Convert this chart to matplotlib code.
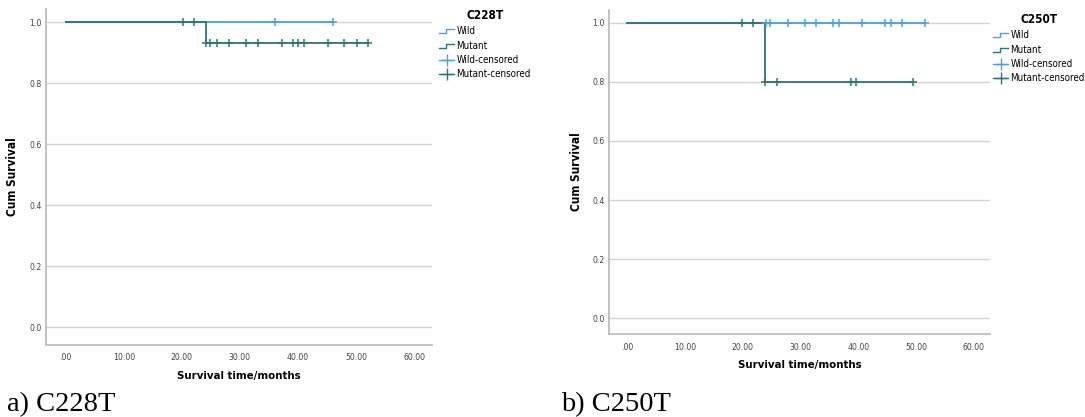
import numpy as np
import matplotlib
matplotlib.use("Agg")
from matplotlib import pyplot as plt
from matplotlib.lines import Line2D
from matplotlib.legend_handler import HandlerBase

# C228T panel
c228_wild_t = [0.0, 46.0]
c228_wild_s = [1.0, 1.0]
c228_wild_cens = [36.0, 46.0]
c228_mut_t = [0.0, 24.1, 52.1]
c228_mut_s = [1.0, 0.933, 0.933]
c228_mut_cens = [20.2, 22.1, 24.1, 24.9, 26.1, 28.2, 31.1, 33.1, 37.2, 39.1,
                 40.0, 41.0, 45.1, 48.0, 50.1, 52.1]

# C250T panel
c250_wild_t = [0.0, 51.5]
c250_wild_s = [1.0, 1.0]
c250_wild_cens = [24.0, 24.8, 27.8, 30.8, 32.7, 35.7, 36.7, 40.7, 44.6, 45.6,
                  47.6, 51.5]
c250_mut_t = [0.0, 23.8, 49.5]
c250_mut_s = [1.0, 0.8, 0.8]
c250_mut_cens = [19.9, 21.8, 23.8, 25.9, 38.7, 39.7, 49.5]

xticks = [0, 10, 20, 30, 40, 50, 60]
yticks = [0.0, 0.2, 0.4, 0.6, 0.8, 1.0]
legend_labels = ["Wild", "Mutant", "Wild-censored", "Mutant-censored"]

WILD = "#4aa2e6"
MUT = "#2d7676"
NARROW = ["DejaVu Sans"]


class StepHandler(HandlerBase):
    def create_artists(self, legend, orig, xd, yd, w, h, fontsize, trans):
        xs = [xd, xd + w * 0.45, xd + w * 0.45, xd + w]
        ys = [yd + h * 0.15, yd + h * 0.15, yd + h * 0.75, yd + h * 0.75]
        ln = Line2D(xs, ys, color=orig.get_color(), lw=1.0)
        ln.set_transform(trans)
        return [ln]


def surv_at(t_steps, s_steps, times):
    idx = np.searchsorted(t_steps, times, side="right") - 1
    return np.asarray(s_steps)[idx]


def km_panel(fig, rect, title, wt, ws, wc, mt, ms, mc, ylim, xlim, leg_anchor):
    ax = fig.add_axes(rect)
    ax.step(wt, ws, where="post", color=WILD, lw=1.3, zorder=3)
    ax.step(mt, ms, where="post", color=MUT, lw=1.3, zorder=4)
    ax.plot(wc, surv_at(wt, ws, wc), ls="none", marker="+", ms=6, mew=1.1,
            color=WILD, zorder=5)
    ax.plot(mc, surv_at(mt, ms, mc), ls="none", marker="+", ms=6, mew=1.1,
            color=MUT, zorder=6)

    ax.set_xlim(*xlim)
    ax.set_ylim(*ylim)
    ax.set_xticks(xticks)
    ax.set_xticklabels(["%.2f" % v if v else ".00" for v in xticks])
    ax.set_yticks(yticks)
    ax.set_yticklabels(["%.1f" % v for v in yticks])
    ax.tick_params(length=0, labelsize=6.2, colors="#444444")
    ax.tick_params(axis="x", pad=6)
    ax.tick_params(axis="y", pad=3)
    for lab in ax.get_xticklabels() + ax.get_yticklabels():
        lab.set_family(NARROW)
        lab.set_stretch("condensed")
    ax.grid(axis="y", color="#d3d3d3", lw=1.0)
    ax.set_axisbelow(True)
    for sp in ["top", "right"]:
        ax.spines[sp].set_visible(False)
    for sp in ["left", "bottom"]:
        ax.spines[sp].set_color("#bdbdbd")
        ax.spines[sp].set_linewidth(1.3)
    ax.set_xlabel("Survival time/months", fontsize=8.2, fontweight="bold",
                  family=NARROW, stretch="condensed", labelpad=6)
    ax.set_ylabel("Cum Survival", fontsize=8.5, fontweight="bold",
                  family=NARROW, stretch="condensed", labelpad=7)

    handles = [Line2D([], [], color=WILD), Line2D([], [], color=MUT),
               Line2D([], [], color=WILD, marker="+", ms=9, mew=1, lw=1),
               Line2D([], [], color=MUT, marker="+", ms=9, mew=1, lw=1)]
    leg = ax.legend(handles, legend_labels, loc="upper left",
                    bbox_to_anchor=leg_anchor, bbox_transform=fig.transFigure,
                    frameon=False, title=title, handlelength=1.6,
                    handletextpad=0.2, labelspacing=0.45, borderpad=0,
                    prop={"family": NARROW, "size": 7,
                          "stretch": "condensed"},
                    title_fontproperties={"family": NARROW, "size": 8.5,
                                          "weight": "bold",
                                          "stretch": "condensed"},
                    handler_map={handles[0]: StepHandler(),
                                 handles[1]: StepHandler()})
    leg._legend_box.align = "center"
    return ax


fig = plt.figure(figsize=(10.85, 4.17), dpi=100)
W, H = 1085.0, 417.0

km_panel(fig, [45.7 / W, 1 - 345 / H, (432 - 45.7) / W, (345 - 9) / H],
         "C228T", c228_wild_t, c228_wild_s, c228_wild_cens,
         c228_mut_t, c228_mut_s, c228_mut_cens,
         (-0.059, 1.043), (-3.44, 63.1), (434 / W, 1 - 4 / H))
km_panel(fig, [609 / W, 1 - 334.3 / H, (990 - 609) / W, (334.3 - 9.6) / H],
         "C250T", c250_wild_t, c250_wild_s, c250_wild_cens,
         c250_mut_t, c250_mut_s, c250_mut_cens,
         (-0.054, 1.044), (-3.1, 62.8), (988 / W, 1 - 8 / H))

fig.text(7 / W, 1 - 411 / H, "a) C228T", family="Liberation Serif",
         fontsize=20.5, va="baseline")
fig.text(561 / W, 1 - 411 / H, "b) C250T", family="Liberation Serif",
         fontsize=20.5, va="baseline")

fig.savefig("out.png", dpi=100)
plt.close(fig)
